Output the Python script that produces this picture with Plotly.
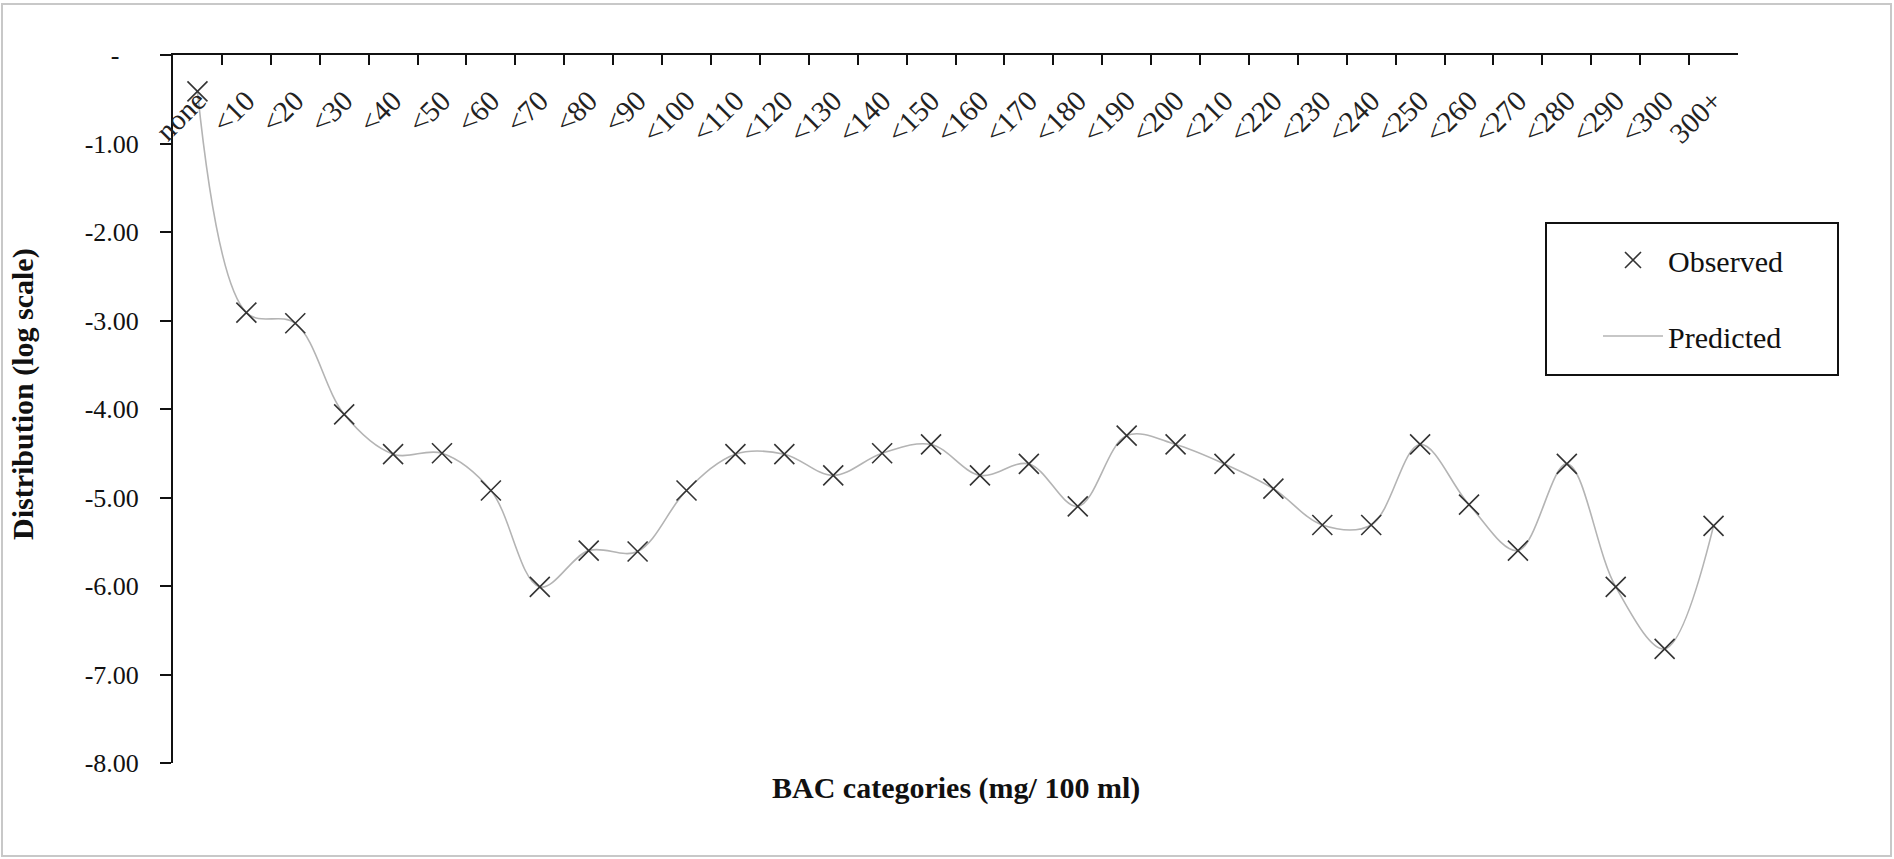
import plotly.graph_objects as go

categories = ["none", "<10", "<20", "<30", "<40", "<50", "<60", "<70", "<80", "<90",
              "<100", "<110", "<120", "<130", "<140", "<150", "<160", "<170", "<180",
              "<190", "<200", "<210", "<220", "<230", "<240", "<250", "<260", "<270",
              "<280", "<290", "<300", "300+"]
observed = [-0.41, -2.91, -3.03, -4.06, -4.51, -4.50, -4.92, -6.01, -5.60, -5.61,
            -4.92, -4.51, -4.51, -4.75, -4.50, -4.40, -4.75, -4.62, -5.10, -4.30,
            -4.40, -4.62, -4.90, -5.31, -5.31, -4.40, -5.08, -5.60, -4.62, -6.01,
            -6.71, -5.32]
predicted = [-0.41, -2.91, -3.03, -4.06, -4.51, -4.50, -4.92, -6.01, -5.60, -5.61,
             -4.92, -4.51, -4.51, -4.75, -4.50, -4.40, -4.75, -4.62, -5.10, -4.30,
             -4.40, -4.62, -4.90, -5.31, -5.31, -4.40, -5.08, -5.60, -4.62, -6.01,
             -6.71, -5.32]
y_ticks = [0, -1, -2, -3, -4, -5, -6, -7, -8]
y_ticktext = ["-\u00a0\u00a0\u00a0", "-1.00", "-2.00", "-3.00", "-4.00", "-5.00", "-6.00", "-7.00", "-8.00"]

W, H = 1894, 859
L, R, T, B = 173, 1738, 55, 763
PW, PH = R - L, B - T

def px2x(px):
    return (px - L) / PW

def py2y(py):
    return (B - py) / PH

FONT = "Liberation Serif, Times New Roman, serif"
idx = list(range(len(categories)))
n = len(categories)

fig = go.Figure()
fig.add_trace(go.Scatter(
    x=idx, y=predicted, mode="lines", name="Predicted",
    legendgroup="pred", legendrank=2,
    line=dict(color="#b4b4b4", width=1.6, shape="spline", smoothing=1.0),
    xaxis="x", yaxis="y",
))
fig.add_trace(go.Scatter(
    x=idx, y=observed, mode="markers", name="Observed",
    legendgroup="obs", legendrank=1,
    marker=dict(symbol="x-thin", size=20, color="#333333",
                line=dict(color="#333333", width=1.6)),
    xaxis="x2", yaxis="y",
))

fig.update_layout(
    width=W, height=H,
    margin=dict(l=L, r=W - R, t=T, b=H - B, autoexpand=False),
    paper_bgcolor="white", plot_bgcolor="white",
    font=dict(family=FONT, color="#111111"),
    xaxis=dict(
        side="top", anchor="y", range=[-0.5, n - 0.5],
        tickvals=[i - 0.5 for i in range(n + 1)],
        showticklabels=False, ticks="inside", ticklen=10, tickwidth=1.5,
        tickcolor="#111111",
        showline=True, linecolor="#111111", linewidth=2,
        showgrid=False, zeroline=False, fixedrange=True,
    ),
    xaxis2=dict(
        side="bottom", anchor="free", position=1, overlaying="x",
        range=[-0.5, n - 0.5],
        tickvals=idx, ticktext=categories,
        tickangle=-45, ticks="", ticklabelstandoff=22,
        tickfont=dict(family=FONT, size=29, color="#222222"),
        showline=False, showgrid=False, zeroline=False, fixedrange=True,
    ),
    yaxis=dict(
        range=[-8, 0.001], tickvals=y_ticks, ticktext=y_ticktext,
        ticks="outside", ticklen=11, tickwidth=1.5, tickcolor="#111111",
        ticklabelstandoff=16,
        tickfont=dict(family=FONT, size=26, color="#111111"),
        showline=True, linecolor="#111111", linewidth=2,
        showgrid=False, zeroline=False, fixedrange=True,
    ),
    showlegend=True,
    legend=dict(
        x=px2x(1598), y=py2y(234), xanchor="left", yanchor="top",
        bgcolor="rgba(0,0,0,0)", borderwidth=0,
        traceorder="grouped", tracegroupgap=34, itemwidth=60,
        font=dict(family=FONT, size=30, color="#111111"),
    ),
    annotations=[
        dict(text="BAC categories (mg/ 100 ml)", xref="paper", yref="paper",
             x=0.5, y=py2y(788), xanchor="center", yanchor="middle", showarrow=False,
             font=dict(family=FONT, size=30, color="#111111", weight="bold")),
        dict(text="Distribution (log scale)", xref="paper", yref="paper",
             x=px2x(23), y=py2y(394), xanchor="center", yanchor="middle",
             textangle=-90, showarrow=False,
             font=dict(family=FONT, size=30, color="#111111", weight="bold")),
    ],
    shapes=[
        dict(type="rect", xref="paper", yref="paper",
             x0=px2x(1546), x1=px2x(1838), y0=py2y(375), y1=py2y(223),
             line=dict(color="#111111", width=2), fillcolor="rgba(0,0,0,0)"),
        dict(type="rect", xref="paper", yref="paper",
             x0=px2x(2), x1=px2x(1891), y0=py2y(856), y1=py2y(4),
             line=dict(color="#c8c8c8", width=2), fillcolor="rgba(0,0,0,0)"),
    ],
)

fig.write_html("out.html")
